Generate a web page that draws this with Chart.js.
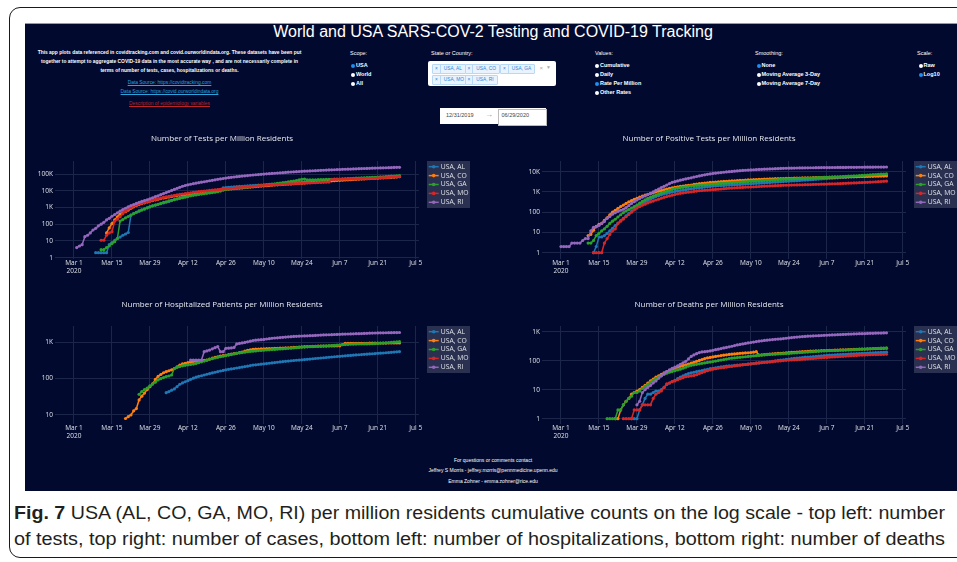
<!DOCTYPE html>
<html><head><meta charset="utf-8">
<script src="https://cdn.jsdelivr.net/npm/chart.js@4.4.0/dist/chart.umd.min.js"></script>
<style>
html,body{margin:0;padding:0;width:957px;height:562px;overflow:hidden;background:#fff;position:relative;}
#frame{position:absolute;left:9px;top:7px;width:1000px;height:549px;border:1.5px solid #1a1a1a;border-radius:11px;}
#panel{position:absolute;left:25px;top:23px;width:960px;height:467px;background:#02092e;border-top:1px solid #9a9a9a;}
.t{position:absolute;white-space:nowrap;color:#fff;font-family:Arial,'Liberation Sans',sans-serif;line-height:1;}
.c{text-align:center;}
.s55{font-size:5.5px;}
.b{font-weight:bold;}
.dot{position:absolute;width:4px;height:4px;border-radius:50%;background:#fff;}
.dot.on{background:#1e8ef0;}
.tag{position:absolute;height:8px;line-height:8px;font-size:4.8px;color:#2a86d8;background:#e8f3fe;border:0.5px solid #b8d8f6;border-radius:1px;font-family:Arial,sans-serif;white-space:nowrap;}
.tag .x{display:inline-block;padding:0 2px;border-right:0.5px solid #b8d8f6;}
.tag .l{display:inline-block;padding:0 3px;}
canvas{position:absolute;}
.cap{position:absolute;left:14px;font-family:'Liberation Sans Narrow','Liberation Sans',Arial,sans-serif;font-size:17.5px;line-height:1;color:#231f20;white-space:nowrap;transform-origin:0 0;}
</style></head>
<body>
<div id="frame"></div>
<div id="panel"></div>

<div class="t c" style="left:243px;top:24px;width:500px;font-size:16px;">World and USA SARS-COV-2 Testing and COVID-19 Tracking</div>

<div class="t c b" style="left:19.5px;width:300px;top:51.2px;font-size:4.9px;">This app plots data referenced in covidtracking.com and covid.ourworldindata.org. These datasets have been put</div>
<div class="t c b" style="left:19.5px;width:300px;top:60.2px;font-size:4.9px;">together to attempt to aggregate COVID-19 data in the most accurate way , and are not necessarily complete in</div>
<div class="t c b" style="left:19.5px;width:300px;top:69.2px;font-size:4.9px;">terms of number of tests, cases, hospitalizations or deaths.</div>
<div class="t c" style="left:19.5px;width:300px;top:81.2px;font-size:4.9px;color:#2ba3dc;text-decoration:underline;">Data Source: https://covidtracking.com</div>
<div class="t c" style="left:19.5px;width:300px;top:89.9px;font-size:4.9px;color:#2ba3dc;text-decoration:underline;">Data Source: https://covid.ourworldindata.org</div>
<div class="t c" style="left:19.5px;width:300px;top:101.9px;font-size:4.9px;color:#b8262c;text-decoration:underline;">Description of epidemiology variables</div>

<div class="t s55" style="left:350px;top:50.8px;">Scope:</div>
<div class="dot on" style="left:351px;top:64px;"></div><div class="t s55 b" style="left:356px;top:62.8px;">USA</div>
<div class="dot" style="left:351px;top:73px;"></div><div class="t s55 b" style="left:356px;top:71.8px;">World</div>
<div class="dot" style="left:351px;top:82px;"></div><div class="t s55 b" style="left:356px;top:80.8px;">All</div>

<div class="t s55" style="left:431px;top:50.8px;">State or Country:</div>
<div style="position:absolute;left:428px;top:61px;width:128px;height:25px;background:#fff;border-radius:2px;"></div>
<div class="tag" style="left:432px;top:63.5px;"><span class="x">×</span><span class="l">USA, AL</span></div>
<div class="tag" style="left:464.5px;top:63.5px;"><span class="x">×</span><span class="l">USA, CO</span></div>
<div class="tag" style="left:500px;top:63.5px;"><span class="x">×</span><span class="l">USA, GA</span></div>
<div class="tag" style="left:432px;top:75px;"><span class="x">×</span><span class="l">USA, MO</span></div>
<div class="tag" style="left:464.5px;top:75px;"><span class="x">×</span><span class="l">USA, RI</span></div>
<div class="t" style="left:539.5px;top:64.5px;font-size:6px;color:#aaa;">×</div>
<div class="t" style="left:546px;top:65px;font-size:5px;color:#aaa;">▼</div>

<div style="position:absolute;left:440px;top:108px;width:106px;height:16px;background:#fff;"></div>
<div style="position:absolute;left:498px;top:108.5px;width:47px;height:15px;border:0.5px solid #bbb;background:#fff;"></div>
<div class="t s55" style="left:446px;top:112.8px;color:#444;">12/31/2019</div>
<div class="t" style="left:485px;top:111px;font-size:8px;color:#999;">→</div>
<div class="t s55" style="left:501.5px;top:112.8px;color:#444;">06/29/2020</div>

<div class="t s55" style="left:595px;top:50.8px;">Values:</div>
<div class="dot" style="left:595px;top:64px;"></div><div class="t s55 b" style="left:600px;top:62.8px;">Cumulative</div>
<div class="dot" style="left:595px;top:73px;"></div><div class="t s55 b" style="left:600px;top:71.8px;">Daily</div>
<div class="dot on" style="left:595px;top:82px;"></div><div class="t s55 b" style="left:600px;top:80.8px;">Rate Per Million</div>
<div class="dot" style="left:595px;top:91px;"></div><div class="t s55 b" style="left:600px;top:89.8px;">Other Rates</div>

<div class="t s55" style="left:755px;top:50.8px;">Smoothing:</div>
<div class="dot on" style="left:756.5px;top:64px;"></div><div class="t s55 b" style="left:761.5px;top:62.8px;">None</div>
<div class="dot" style="left:756.5px;top:73px;"></div><div class="t s55 b" style="left:761.5px;top:71.8px;">Moving Average 3-Day</div>
<div class="dot" style="left:756.5px;top:82px;"></div><div class="t s55 b" style="left:761.5px;top:80.8px;">Moving Average 7-Day</div>

<div class="t s55" style="left:917px;top:50.8px;">Scale:</div>
<div class="dot" style="left:918.5px;top:64px;"></div><div class="t s55 b" style="left:923.5px;top:62.8px;">Raw</div>
<div class="dot on" style="left:918.5px;top:73px;"></div><div class="t s55 b" style="left:923.5px;top:71.8px;">Log10</div>

<canvas id="cTests"></canvas>
<canvas id="cPos"></canvas>
<canvas id="cHosp"></canvas>
<canvas id="cDeaths"></canvas>

<div class="t c" style="left:343px;width:300px;top:457.5px;font-size:5px;">For questions or comments contact</div>
<div class="t c" style="left:343px;width:300px;top:467.5px;font-size:5px;">Jeffrey S Morris - jeffrey.morris@pennmedicine.upenn.edu</div>
<div class="t c" style="left:343px;width:300px;top:478.5px;font-size:5px;">Emma Zohner - emma.zohner@rice.edu</div>

<div class="cap" id="cap1" style="top:505px;"><b>Fig. 7</b> USA (AL, CO, GA, MO, RI) per million residents cumulative counts on the log scale - top left: number</div>
<div class="cap" id="cap2" style="top:530.5px;">of tests, top right: number of cases, bottom left: number of hospitalizations, bottom right: number of deaths</div>

<script>
// ---------- data (day 0 = Mar 1, 2020; each series starts at its START day, one value per day) ----------
const STATES = ['USA, AL', 'USA, CO', 'USA, GA', 'USA, MO', 'USA, RI'];
const TICK_DAYS = [0, 14, 28, 42, 56, 70, 84, 98, 112, 126];
const TICK_LABELS = ['Mar 1', 'Mar 15', 'Mar 29', 'Apr 12', 'Apr 26', 'May 10', 'May 24', 'Jun 7', 'Jun 21', 'Jul 5'];
const TICK_YEAR = '2020';
const Y_TICKS = [1, 10, 100, 1000, 10000, 100000];

// Tests per million
const TESTS_START = [8, 12, 10, 10, 1];
const TESTS_AL = [2,2,2,2,2,6,8,11,14,17,
 22,26,32,350,430,520,600,700,800,950,
 1100,1250,1400,1550,1700,1850,2050,2300,2600,2900,
 3300,3700,4100,4600,5100,5600,6000,6500,7000,7500,
 8000,8500,9000,9600,10200,10800,11500,15000,15500,16000,
 16500,17000,17500,18000,18500,19000,19500,20000,20500,21000,
 21500,22000,22500,23000,23500,24000,24500,25000,25500,26000,
 27000,28000,29000,30000,31000,32000,33000,34000,35000,36000,
 37000,38000,39000,40000,41000,42000,43000,44000,45000,46000,
 47000,48000,49000,50000,51000,52000,53000,54000,55000,56000,
 57000,58000,59000,60000,61000,62000,63000,64000,65500,67000,
 68500,70000,71000];
const TESTS_CO = [30,60,110,180,280,400,480,560,700,900,
 1100,1300,1500,1700,1900,2150,2400,2600,2850,3100,
 3400,3700,4000,4300,4600,4900,5200,5500,5800,6100,
 6400,6800,7200,7600,8000,8400,8800,9200,9600,10000,
 10400,10800,11200,11600,12000,12500,13000,13500,14000,14500,
 15000,15500,16000,16600,17200,17800,18400,19000,19600,20200,
 20800,21400,22000,22600,23200,23800,24400,25000,25700,26400,
 27100,27800,28500,29200,30000,31000,32000,33000,34000,35000,
 36000,37000,38000,39000,40000,41000,42000,43000,44000,45000,
 46000,47000,48000,49000,50000,51000,52000,53000,54000,55000,
 56000,57500,59000,60500,62000,63500,65000,67000,70000];
const TESTS_GA = [3,3,4,5,7,9,14,155,190,240,
 290,350,430,520,620,720,820,950,1100,1250,
 1400,1550,1750,2000,2200,2450,2700,2950,3200,3500,
 3800,4100,4500,5000,5300,5600,6000,6300,6700,7000,
 7400,7800,8200,8700,9500,11000,12000,12500,13000,13500,
 14000,14500,15000,15800,16500,17300,18000,19000,20000,21000,
 22000,23000,24000,25000,26000,27500,29000,30500,32000,34000,
 36000,38000,41000,44000,48000,50000,44000,44500,45000,45500,
 46000,46500,47000,47500,48000,48500,49000,49500,50000,51000,
 52000,53000,54000,55000,56000,57000,58000,59000,60000,61000,
 62500,64000,65500,67000,68500,70000,72000,74000,76000,78000,80000];
const TESTS_MO = [11,11,22,30,36,150,200,280,420,600,
 800,1000,1200,1400,1600,1800,2000,2200,2400,2700,
 3000,3300,3600,4000,4300,4600,4900,5200,5600,6000,
 6400,6800,7200,7600,8000,8400,8800,9200,9600,10000,
 10400,10800,11200,11600,12000,12500,13000,13500,14000,14500,
 15000,15600,16200,16800,17400,18000,18600,19200,19800,20400,
 21000,21500,22000,22500,23000,23500,24000,24500,25000,25500,
 26000,26500,27000,27500,28000,28500,29000,29500,30000,30500,
 31000,31500,32000,32500,33000,47000,47500,48000,48500,49000,
 49500,50000,50500,51000,51500,52000,52500,53000,53500,54000,
 54500,55000,58000,59000,60000,61000,62000,66000,67000,68000,69000];
const TESTS_RI = [4,5,6,18,22,30,45,57,80,100,
 130,180,225,300,380,480,600,750,900,1100,
 1300,1500,1750,2000,2300,2600,2900,3300,3800,4400,
 5000,5800,6800,7800,9000,10500,12000,14000,16000,18500,
 20500,22500,24500,26500,28500,30500,32500,34500,37000,39500,
 42000,45000,48000,51000,54000,57000,60000,63000,66000,69000,
 72000,75000,78000,81000,84000,87000,90000,93000,96000,99000,
 102000,105000,108000,111000,114000,117000,120000,124000,128000,132000,
 135000,138000,141000,144000,147000,150000,153000,156000,159000,162000,
 165000,168000,171000,174000,177000,180000,183000,186000,189000,192000,
 195000,198000,201000,204000,207000,210000,213000,216000,219000,222000,
 225000,228000,231000,234000,237000,240000,243000,246000,249000,252000];

// Positive tests per million
const POS_START = [12, 10, 10, 12, 0];
const POS_AL = [1,2,6,6,7,9,12,16,22,29,
 38,50,66,85,110,140,180,220,270,320,
 380,440,510,590,650,720,790,860,930,1000,
 1060,1120,1180,1240,1300,1370,1440,1500,1560,1620,
 1680,1740,1800,1870,1950,1990,2030,2070,2110,2150,
 2190,2230,2270,2310,2360,2410,2460,2510,2560,2610,
 2660,2710,2770,2830,2890,2950,3010,3070,3130,3200,
 3270,3340,3410,3480,3550,3620,3700,3780,3860,3940,
 4020,4100,4200,4300,4400,4500,4600,4700,4800,4900,
 5000,5100,5200,5300,5400,5500,5600,5700,5800,5900,
 6000,6100,6200,6300,6400,6550,6700,6850,7000];
const POS_CO = [7,8,13,20,25,28,40,53,75,100,
 125,155,190,225,270,320,370,430,490,550,
 620,690,760,830,910,1000,1080,1170,1280,1400,
 1500,1600,1700,1800,1880,1960,2040,2120,2200,2350,
 2450,2550,2650,2750,2850,2950,3000,3080,3150,3220,
 3300,3370,3440,3510,3580,3650,3720,3790,3860,3920,
 3980,4040,4100,4160,4220,4280,4340,4400,4460,4500,
 4540,4580,4620,4660,4700,4740,4780,4820,4860,4900,
 4940,4980,5020,5060,5100,5140,5180,5220,5260,5300,
 5340,5380,5420,5460,5500,5540,5580,5620,5660,5700,
 5740,5780,5820,5860,5900,5940,5980,6020,6060,6100,6150];
const POS_GA = [3,3,4,7,9,12,15,20,28,36,
 45,58,75,95,115,135,160,190,225,280,
 340,410,480,550,630,700,790,880,980,1080,
 1200,1350,1450,1540,1620,1700,1780,1860,1940,2000,
 2060,2120,2180,2240,2300,2370,2450,2510,2570,2630,
 2690,2750,2810,2870,2930,2990,3050,3120,3200,3270,
 3340,3410,3480,3550,3620,3690,3760,3830,3900,3980,
 4060,4140,4220,4280,4340,4400,4460,4520,4580,4640,
 4700,4770,4840,4910,4980,5050,5120,5200,5280,5360,
 5440,5520,5600,5700,5800,5900,6000,6100,6200,6320,
 6440,6560,6680,6800,6950,7100,7250,7400,7550,7700,7850];
const POS_MO = [1,1,1,1,3,5,8,12,15,28,
 36,46,60,78,100,130,160,190,220,250,
 285,320,355,400,440,490,540,590,640,690,
 750,810,860,900,940,980,1020,1060,1100,1150,
 1180,1210,1240,1270,1300,1330,1360,1400,1450,1500,
 1530,1560,1590,1620,1650,1680,1710,1740,1770,1800,
 1830,1860,1890,1920,1950,1980,2010,2040,2070,2100,
 2120,2140,2160,2180,2200,2220,2240,2260,2280,2300,
 2320,2350,2370,2390,2410,2430,2450,2480,2510,2540,
 2570,2600,2630,2660,2700,2740,2780,2820,2860,2900,
 2950,3000,3050,3100,3160,3220,3280,3340,3400];
const POS_RI = [2,2,2,2,3,3,3,3,4,5,
 5,12,18,19,22,28,35,50,62,80,
 95,110,125,140,170,210,270,330,400,470,
 560,640,730,860,1000,1200,1400,1650,1900,2200,
 2600,3000,3200,3500,3800,4100,4400,4700,5000,5400,
 5800,6200,6600,7000,7400,7800,8200,8500,8800,9100,
 9400,9700,10000,10300,10600,10900,11200,11500,11800,12000,
 12300,12500,12700,12900,13100,13300,13500,13700,13900,14100,
 14300,14500,14600,14800,14900,15000,15100,15200,15300,15400,
 15500,15600,15700,15700,15800,15800,15900,15900,16000,16000,
 16100,16100,16200,16200,16300,16300,16400,16400,16500,16500,
 16600,16600,16700,16700,16800,16800,16900,16900,17000,17000,17100];

// Hospitalized patients per million (no MO values)
const HOSP_START = [34, 19, 24, 0, 43];
const HOSP_AL = [41,44,48,52,60,70,76,82,88,96,
 103,110,116,120,126,132,138,144,150,156,
 162,168,175,180,185,190,196,202,208,214,
 220,228,236,240,245,250,255,260,265,270,
 276,282,288,294,300,305,310,315,320,325,
 330,335,340,346,352,358,364,370,376,382,
 388,394,400,406,412,418,424,430,436,442,
 448,454,460,466,472,478,484,490,496,502,
 508,515,522,530,538,546,555];
const HOSP_CO = [8,9,10,13,15,26,33,40,50,60,
 72,95,115,130,145,155,165,175,190,210,
 235,255,265,275,285,295,300,305,310,318,
 325,345,365,385,400,420,430,440,455,470,
 485,500,520,540,570,600,620,640,645,650,
 655,660,665,670,675,680,685,690,695,700,
 705,710,720,730,740,750,755,760,765,770,
 775,780,782,785,788,790,792,795,798,800,
 870,930,932,934,936,938,940,940,940,942,
 944,946,948,950,950,952,954,956,958,960,
 960,960];
const HOSP_GA = [37,44,50,55,63,71,80,92,100,107,
 114,118,126,190,205,215,225,232,240,245,
 252,262,275,290,305,325,340,355,370,385,
 400,415,430,445,460,480,500,510,520,535,
 550,560,570,580,590,598,606,614,622,630,
 638,646,654,662,670,680,690,700,710,720,
 730,740,750,755,760,768,776,784,792,800,
 808,816,824,832,850,858,866,874,882,888,
 892,896,898,900,902,905,910,920,930,940,
 950,960,975,990,1005,1020,1040];
const HOSP_MO = [];
const HOSP_RI = [325,325,325,325,325,550,580,610,660,710,
 760,550,550,680,690,700,720,900,930,960,
 990,1030,1070,1120,1140,1160,1180,1200,1230,1260,
 1290,1310,1330,1350,1370,1390,1410,1430,1445,1460,
 1475,1490,1500,1510,1520,1530,1545,1560,1575,1590,
 1600,1610,1620,1635,1650,1660,1670,1680,1690,1700,
 1710,1720,1730,1740,1750,1765,1780,1790,1800,1810,
 1815,1820,1830,1835,1840,1850,1855,1860];

// Deaths per million
const DEATHS_START = [26, 20, 17, 23, 28];
const DEATHS_AL = [1,1,1,2,3,5,7,7,8,9,
 9,10,12,15,17,19,21,24,27,30,
 33,36,38,40,42,44,46,48,50,53,
 55,57,59,61,63,65,66,67,69,70,
 71,73,74,76,78,80,82,84,86,88,
 90,92,95,98,102,105,108,111,114,117,
 120,123,126,129,132,134,136,138,140,143,
 146,149,152,155,157,159,161,163,165,167,
 169,171,173,175,177,179,181,183,185,187,
 189,191,193,195,197];
const DEATHS_CO = [1,1,2,3,4,5,7,8,9,10,
 12,14,17,20,23,27,30,34,38,42,
 46,51,55,60,64,68,72,77,82,88,
 95,102,110,118,125,130,135,140,145,150,
 155,160,165,168,171,175,179,182,185,188,
 192,197,204,157,160,163,166,169,172,175,
 178,181,184,187,190,193,196,199,202,205,
 208,211,213,215,217,219,221,223,225,227,
 229,231,233,235,237,239,241,243,245,247,
 249,251,253,255,257,259,261,263,265,267,269];
const DEATHS_GA = [1,1,1,1,2,2,3,4,5,6,
 8,8,9,11,13,15,18,21,24,27,
 30,34,37,40,42,45,48,51,55,60,
 65,69,72,75,78,81,84,87,90,93,
 97,101,105,109,114,119,122,125,128,131,
 134,137,140,143,146,149,152,155,158,161,
 164,166,168,170,172,174,176,178,181,184,
 187,190,193,196,199,202,205,208,211,214,
 217,219,221,223,225,227,229,231,233,235,
 237,240,243,246,249,252,255,258,261,264,
 267,270,273,276];
const DEATHS_MO = [1,1,1,1,2,2,2,3,3,3,
 3,5,7,8,9,12,16,17,19,20,
 22,24,26,28,29,30,31,33,36,39,
 42,45,48,51,53,55,57,58,60,62,
 64,66,68,70,72,74,76,78,80,82,
 84,86,88,90,91,93,95,97,99,101,
 103,105,106,107,108,110,112,114,116,118,
 120,122,124,126,128,130,132,134,136,138,
 140,142,144,146,148,150,152,154,156,158,
 160,161,162,163,164,165,166,167];
const DEATHS_RI = [3,4,8,10,12,14,17,20,25,30,
 36,42,48,54,60,66,75,85,95,115,
 140,158,175,190,200,205,210,218,228,240,
 250,262,275,288,300,315,332,350,365,380,
 395,410,425,440,455,470,485,500,512,524,
 535,545,555,565,580,595,610,625,640,655,
 668,680,690,700,708,716,724,732,740,748,
 756,764,772,780,788,796,804,812,820,828,
 836,844,852,858,864,870,876,882,888,894,
 900,906,912];

// ---------- styling ----------
const COLORS = ['#1f77b4', '#ff7f0e', '#2ca02c', '#d62728', '#9467bd'];
const GRID = '#1c264b';
const TICK_COLOR = '#dde1e8';
const TITLE_COLOR = '#e6e9ef';
const LEGEND_BG = '#2a3050';
Chart.defaults.font.family = "'Open Sans', 'DejaVu Sans', sans-serif";

const plotlyLegend = {
  id: 'plotlyLegend',
  afterDraw(chart, args, o) {
    const ctx = chart.ctx, a = chart.chartArea;
    const x0 = a.right + o.gap, y0 = a.top;
    ctx.save();
    ctx.fillStyle = o.bg;
    ctx.fillRect(x0, y0, o.w, o.h);
    ctx.font = o.fontSize + "px 'Open Sans', sans-serif";
    ctx.textBaseline = 'middle';
    ctx.textAlign = 'left';
    chart.data.datasets.forEach((ds, i) => {
      const y = y0 + o.first + i * o.step;
      ctx.strokeStyle = ds.borderColor; ctx.lineWidth = 1.5;
      ctx.beginPath(); ctx.moveTo(x0 + 1.7, y); ctx.lineTo(x0 + 11.7, y); ctx.stroke();
      ctx.fillStyle = ds.borderColor;
      ctx.beginPath(); ctx.arc(x0 + 6.7, y, 1.8, 0, Math.PI * 2); ctx.fill();
      ctx.fillStyle = o.color;
      ctx.fillText(ds.label, x0 + 13.7, y);
    });
    ctx.restore();
  }
};

function yLabel(v) { return v >= 1000 ? (v / 1000) + 'K' : String(v); }

function makeChart(id, g, title, starts, series, yMin, yMax) {
  const cv = document.getElementById(id);
  cv.width = g.w; cv.height = g.h;
  cv.style.left = g.x + 'px'; cv.style.top = g.y + 'px';
  const titleSize = 8, lh = titleSize * 1.2;
  const padTop = g.titleY - g.y - lh / 2;
  const padBottom = (g.plotT - g.y) - padTop - lh;
  const datasets = STATES.map((name, i) => ({
    label: name,
    data: series[i].map((v, k) => ({ x: starts[i] + k, y: v })),
    borderColor: COLORS[i], backgroundColor: COLORS[i],
    borderWidth: 1.5, pointRadius: 1.6, pointBorderWidth: 0, pointHoverRadius: 0,
    pointBackgroundColor: COLORS[i], tension: 0, fill: false, order: 4 - i
  }));
  return new Chart(cv, {
    type: 'line',
    data: { datasets },
    options: {
      responsive: false, animation: false, devicePixelRatio: 1,
      events: [],
      layout: { padding: { left: 0, top: 0, bottom: 0, right: g.w - (g.plotR - g.x) } },
      plugins: {
        legend: { display: false }, tooltip: { enabled: false },
        title: { display: true, text: title, color: TITLE_COLOR,
                 font: { size: titleSize, weight: 'normal' },
                 padding: { top: padTop, bottom: padBottom } },
        plotlyLegend: { gap: 8, w: 43, h: 47, first: 5.7, step: 8.9, bg: LEGEND_BG, color: TICK_COLOR, fontSize: 6.8 }
      },
      scales: {
        x: {
          type: 'linear', min: -7, max: 127.2,
          afterBuildTicks: s => { s.ticks = TICK_DAYS.map(v => ({ value: v })); },
          afterFit: s => { s.height = g.y + g.h - g.plotB; },
          grid: { color: GRID, drawTicks: false, lineWidth: 1 },
          border: { display: false },
          ticks: { color: TICK_COLOR, font: { size: 6.5 }, padding: 0.5, maxRotation: 0, autoSkip: false,
                   callback: (v, i) => i === 0 ? [TICK_LABELS[0], TICK_YEAR] : TICK_LABELS[i] }
        },
        y: {
          type: 'logarithmic', min: yMin, max: yMax,
          afterBuildTicks: s => { s.ticks = Y_TICKS.filter(v => v >= s.min && v <= s.max).map(v => ({ value: v })); },
          afterFit: s => { s.width = g.plotL - g.x; },
          grid: { color: GRID, drawTicks: false, lineWidth: 1 },
          border: { display: false },
          ticks: { color: TICK_COLOR, font: { size: 6.5 }, padding: 2, callback: v => yLabel(v) }
        }
      }
    },
    plugins: [plotlyLegend]
  });
}

makeChart('cTests', { x: 25, y: 125, w: 450, h: 165, plotL: 55, plotR: 419, plotT: 161, plotB: 259, titleY: 139 },
  'Number of Tests per Million Residents', TESTS_START,
  [TESTS_AL, TESTS_CO, TESTS_GA, TESTS_MO, TESTS_RI], 0.836, 598000);
makeChart('cPos', { x: 512, y: 125, w: 450, h: 165, plotL: 542, plotR: 906, plotT: 161, plotB: 259, titleY: 139 },
  'Number of Positive Tests per Million Residents', POS_START,
  [POS_AL, POS_CO, POS_GA, POS_MO, POS_RI], 0.489, 33750);
makeChart('cHosp', { x: 25, y: 290, w: 450, h: 165, plotL: 55, plotR: 419, plotT: 326, plotB: 424, titleY: 305 },
  'Number of Hospitalized Patients per Million Residents', HOSP_START,
  [HOSP_AL, HOSP_CO, HOSP_GA, HOSP_MO, HOSP_RI], 5.65, 2805);
makeChart('cDeaths', { x: 512, y: 290, w: 450, h: 165, plotL: 542, plotR: 906, plotT: 326, plotB: 424, titleY: 305 },
  'Number of Deaths per Million Residents', DEATHS_START,
  [DEATHS_AL, DEATHS_CO, DEATHS_GA, DEATHS_MO, DEATHS_RI], 0.656, 1573);

// fit caption lines to the printed line width
['cap1', 'cap2'].forEach(id => {
  const el = document.getElementById(id);
  const w = el.getBoundingClientRect().width;
  el.style.transform = 'scaleX(' + (931 / w) + ')';
});
</script>
</body></html>
